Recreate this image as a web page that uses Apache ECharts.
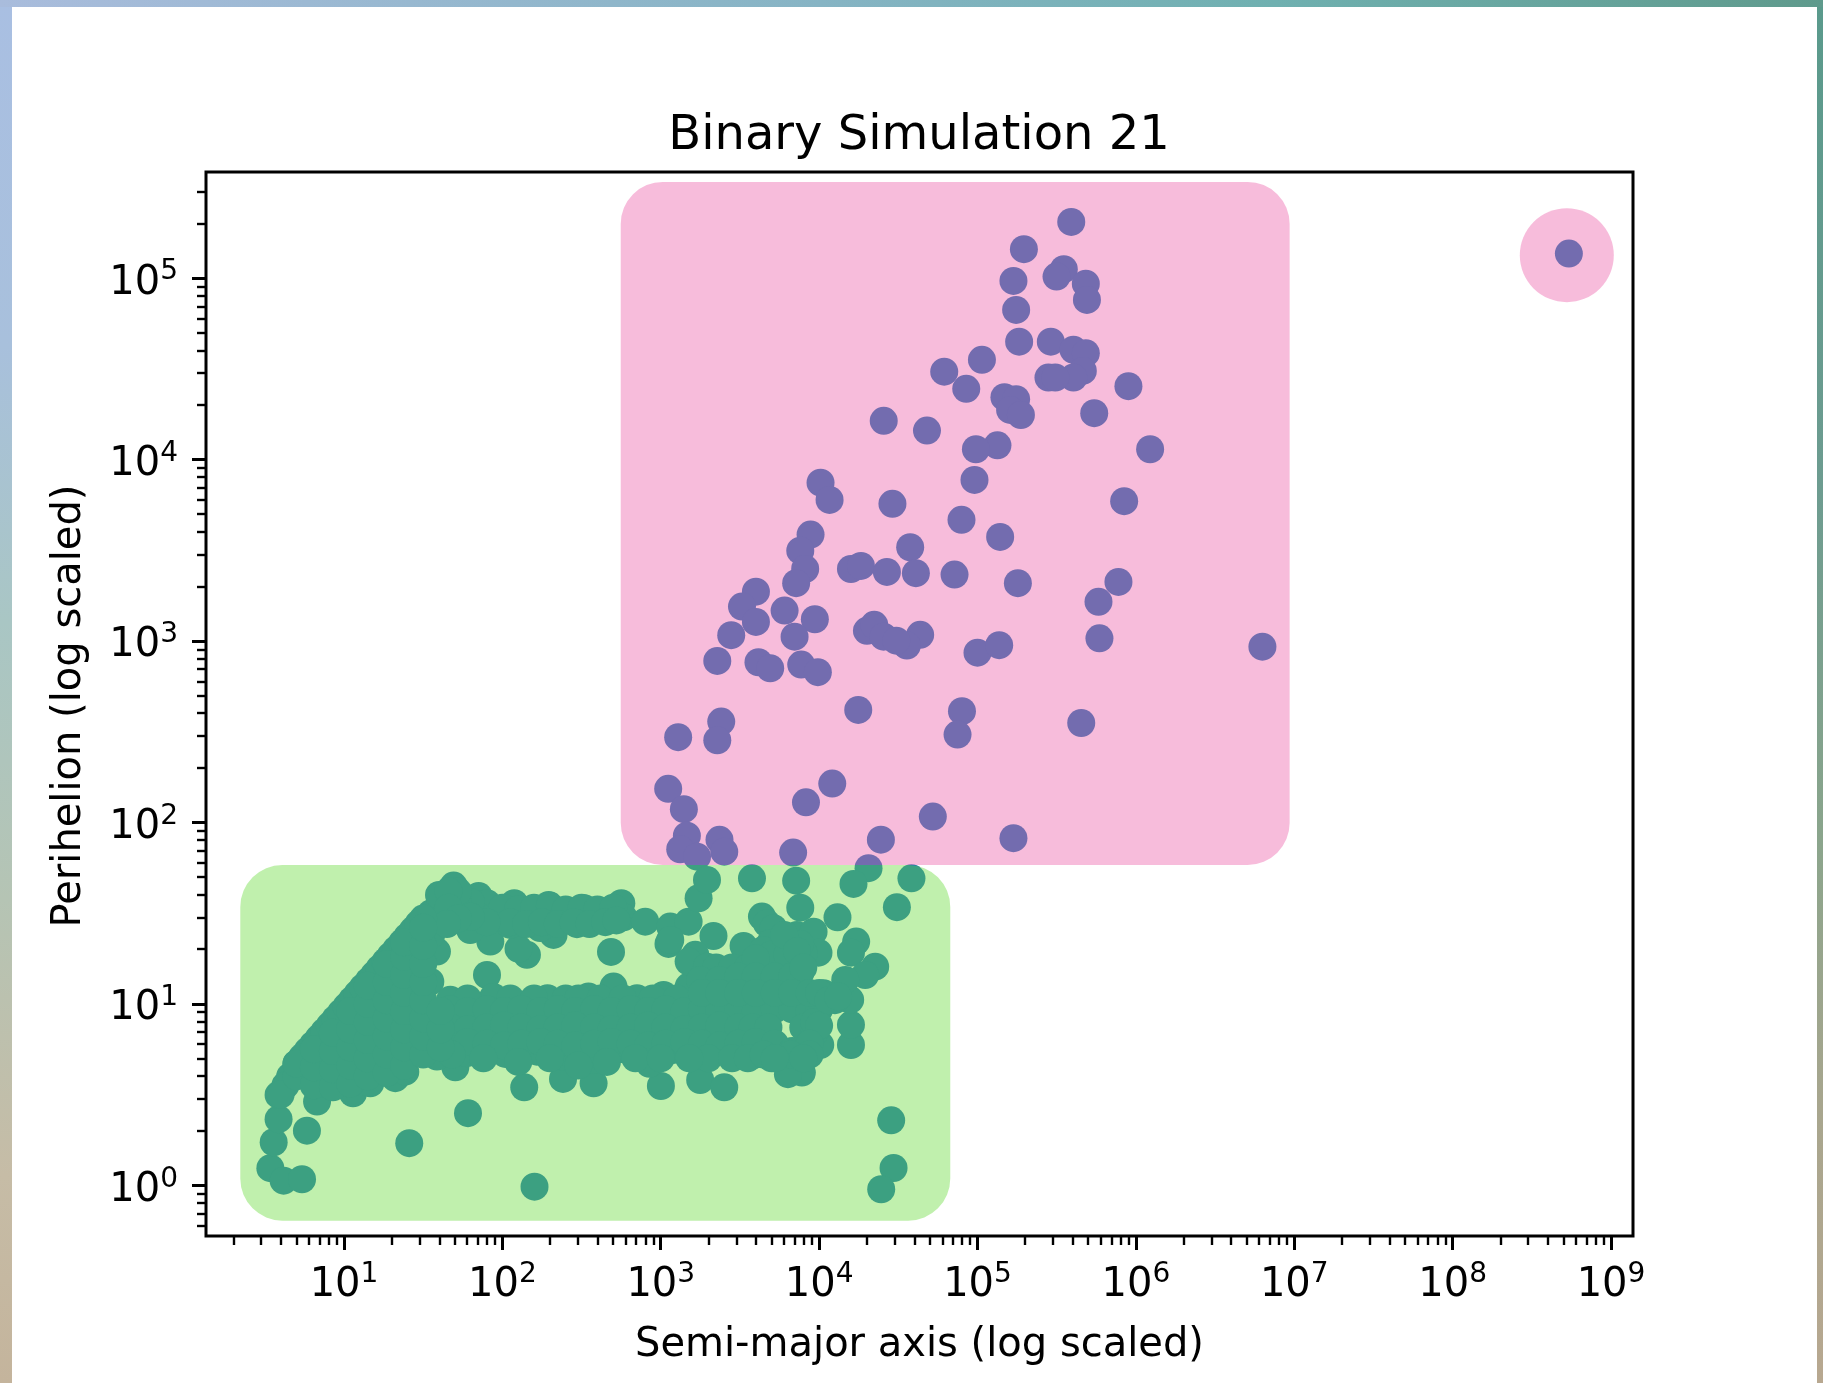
<!DOCTYPE html>
<html>
<head>
<meta charset="utf-8">
<title>Binary Simulation 21</title>
<script src="https://cdn.jsdelivr.net/npm/echarts@6/dist/echarts.min.js"></script>
<style>
  html, body { margin: 0; padding: 0; width: 1823px; height: 1383px; overflow: hidden; }
  body {
    background:
      linear-gradient(to right, #a9bcdc, #86b4c4 45%, #6fb0b0 70%, #5f9a8c) 0 0 / 100% 7px no-repeat,
      linear-gradient(to bottom, #a9bfe2 0, #a8c0dc 25%, #a9c6c4 45%, #b5c4b4 65%, #c6bca6 85%, #c4b49c) 0 0 / 12px 100% no-repeat,
      linear-gradient(to bottom, #5a9a8c 0, #6d9c90 35%, #8aa58c 60%, #a8a68e 80%, #b8a890) right 0 / 6px 100% no-repeat;
  }
  #panel { position: absolute; left: 12px; top: 7px; width: 1805px; height: 1376px; background: #fff; }
  #main { position: absolute; left: 0; top: 0; width: 1823px; height: 1383px; }
</style>
</head>
<body>
<div id="panel"></div>
<div id="main"></div>
<script>

// wide binaries, upper cluster
var wideAxisLog = [
  5.592, 5.293, 5.227, 5.244, 5.545, 5.499, 5.684, 5.691, 5.263, 5.463, 5.606, 5.684, 5.665, 5.606, 5.448, 5.491,
  5.953, 5.028, 4.790, 4.929, 5.170, 5.244, 5.206, 5.274, 5.737, 4.681, 5.126, 4.990, 4.981, 6.090, 5.926, 4.899,
  5.143, 4.575, 4.611, 4.855, 5.255, 5.890, 5.764, 5.770, 6.799, 4.638, 4.554, 5.000, 5.137, 4.902, 4.874, 5.655,
  4.718, 5.227, 4.009, 4.066, 4.463, 3.946, 3.881, 3.912, 3.855, 4.201, 4.264, 4.428, 3.601, 3.513, 3.601, 3.782,
  3.973, 3.445, 3.845, 3.357, 3.617, 3.691, 3.887, 3.992, 4.302, 4.348, 4.407, 4.487, 4.247, 3.382, 3.357, 3.110,
  3.047, 3.146, 3.917, 4.083, 3.165, 3.123, 3.229, 3.371, 3.401, 3.836, 4.390, 8.734, 4.312, 4.408
];
var widePeriLog = [
  5.310, 5.160, 4.985, 4.825, 5.050, 5.009, 4.970, 4.880, 4.650, 4.650, 4.605, 4.587, 4.489, 4.452, 4.452, 4.452,
  4.405, 4.550, 4.485, 4.390, 4.344, 4.333, 4.274, 4.246, 4.256, 4.160, 4.079, 4.057, 3.888, 4.057, 3.771, 3.668,
  3.574, 3.517, 3.374, 3.366, 3.319, 3.326, 3.216, 3.015, 2.969, 3.034, 2.975, 2.936, 2.977, 2.613, 2.484, 2.548,
  2.032, 1.913, 3.873, 3.778, 3.756, 3.587, 3.498, 3.397, 3.319, 3.397, 3.414, 3.381, 3.272, 3.190, 3.105, 3.168,
  3.120, 3.032, 3.024, 2.890, 2.883, 2.850, 2.870, 2.828, 3.056, 3.089, 3.024, 3.002, 2.620, 2.556, 2.453, 2.470,
  2.185, 2.073, 2.111, 2.214, 1.927, 1.852, 1.811, 1.904, 1.839, 1.834, 1.905, 5.136, 1.748, 4.214
];

// close binaries, lower cluster
var closeAxisLog = [
  // outliers and lower edge
  0.535, 0.619, 0.735, 0.556, 0.587, 0.587, 0.766, 1.412, 1.783, 2.203, 2.138, 2.383, 2.576, 3.001, 1.703, 0.830,
  1.057, 1.166, 1.324, 1.387, 1.587, 1.777, 2.018, 2.218, 2.386, 2.574, 2.761, 2.934, 3.081, 3.249, 3.401, 3.586,
  3.891, 3.803, 4.007, 4.201, 4.201, 4.196, 2.929, 2.755, 4.455, 4.470, 4.392,
  // upper strand
  1.692, 1.850, 1.903, 2.075, 2.292, 2.197, 2.517, 2.618, 2.751, 2.765, 2.902, 3.060, 3.176, 3.049, 3.239, 3.292,
  3.333, 2.686, 2.323, 2.471, 2.155, 2.102, 1.924, 1.797, 1.903, 1.587, 1.545, 1.734, 1.608, 1.797, 2.366, 2.050, 2.239,
  2.00, 2.10, 2.20, 2.30, 2.40, 2.50, 2.60, 2.70, 2.05, 2.15, 2.25, 2.35, 2.45, 2.55, 2.65, 2.72,
  1.85, 1.80, 1.72, 1.72, 1.90, 1.80, 1.55, 1.61, 1.55, 1.60, 1.66, 1.66, 1.72, 1.65,
  // top of the band
  2.145, 2.285, 2.544, 2.702, 2.850, 3.018, 1.943, 1.671, 3.176, 3.249, 3.449, 3.607, 3.754, 3.881, 3.523, 3.218,
  3.176, 3.292, 3.639, 3.670, 3.712, 3.691, 3.647, 3.775, 3.860, 3.965, 3.996, 3.902, 3.881, 3.855, 3.576, 4.217,
  4.583, 4.491, 4.116, 4.234, 4.201, 4.354, 4.291, 4.165, 4.028, 3.060,
  3.35, 3.45, 3.55, 3.65, 3.75, 3.85, 3.70, 3.80, 3.60, 3.88, 3.78, 3.86,
  1.78, 2.05, 2.20, 2.40, 2.48, 2.62, 2.76, 2.95, 3.10,
  // band
  1.67, 1.78, 1.90, 2.01, 2.12, 2.24, 2.35, 2.46, 2.58, 2.69, 2.81, 2.92, 3.03, 3.15, 3.26, 3.37, 3.49, 3.60, 3.72, 3.83, 3.94, 4.00, 4.10,
  1.67, 1.78, 1.90, 2.01, 2.12, 2.24, 2.35, 2.46, 2.58, 2.69, 2.81, 2.92, 3.03, 3.15, 3.26, 3.37, 3.49, 3.58, 3.68, 3.90, 3.97, 3.97, 4.00,
  1.67, 1.78, 1.90, 2.01, 2.12, 2.24, 2.35, 2.46, 2.58, 2.69, 2.81, 2.92, 3.03, 3.15, 3.26, 3.37, 3.49, 3.60, 3.72, 3.83, 3.94,
  3.25, 3.37, 3.49, 3.60, 3.72, 3.83, 3.90, 3.26, 3.37, 3.49, 3.60, 3.72, 3.83, 3.94, 3.30, 3.45, 3.82, 3.94, 3.70,
  4.00, 4.06, 4.12,
  1.68, 1.88, 2.10, 2.30, 2.48, 2.66, 2.84, 3.00, 3.18, 3.55, 3.65, 3.72, 3.90,
  // diagonal edge
  0.66, 0.63, 0.60, 0.70, 0.735, 0.77, 0.805, 0.84, 0.875, 0.91, 0.945, 0.98, 1.015, 1.05, 1.085, 1.12, 1.155, 1.19, 1.225, 1.26, 1.295,
  1.33, 1.365, 1.40, 1.435, 1.47, 1.50,
  // block under the diagonal
  0.70, 0.70, 0.81, 0.81, 0.81, 0.93, 0.93, 0.93, 0.93, 1.04, 1.04, 1.04, 1.04, 1.04,
  1.15, 1.15, 1.15, 1.15, 1.15, 1.15, 1.27, 1.27, 1.27, 1.27, 1.27, 1.27, 1.27,
  1.38, 1.38, 1.38, 1.38, 1.38, 1.38, 1.38, 1.38, 1.50, 1.50, 1.50, 1.50, 1.50, 1.50, 1.50, 1.50,
  1.61, 1.61, 1.61
];
var closePeriLog = [
  0.094, 0.025, 0.033, 0.237, 0.364, 0.498, 0.301, 0.232, 0.397, -0.008, 0.540, 0.586, 0.562, 0.547, 0.650, 0.461,
  0.507, 0.562, 0.590, 0.626, 0.709, 0.728, 0.724, 0.736, 0.709, 0.691, 0.750, 0.673, 0.746, 0.580, 0.540, 0.718,
  0.621, 0.612, 0.773, 0.773, 0.884, 1.022, 0.669, 0.751, 0.358, 0.095, -0.022,

  1.652, 1.595, 1.555, 1.555, 1.545, 1.518, 1.527, 1.463, 1.555, 1.477, 1.453, 1.426, 1.453, 1.330, 1.582, 1.683,
  1.374, 1.286, 1.380, 1.439, 1.270, 1.303, 1.343, 1.407, 1.159, 1.288, 1.122, 1.545, 1.463, 1.505, 1.463, 1.435, 1.418,
  1.53, 1.52, 1.53, 1.54, 1.52, 1.53, 1.52, 1.53, 1.45, 1.44, 1.45, 1.44, 1.45, 1.44, 1.45, 1.46,
  1.48, 1.56, 1.55, 1.62, 1.45, 1.48, 1.50, 1.55, 1.38, 1.60, 1.62, 1.53, 1.47, 1.44,

  0.994, 1.031, 1.040, 1.095, 1.031, 1.049, 1.038, 1.022, 1.095, 1.132, 1.196, 1.170, 1.169, 1.170, 1.319, 1.270,
  1.233, 1.205, 1.481, 1.444, 1.417, 1.334, 1.297, 1.315, 1.380, 1.398, 1.282, 1.279, 1.530, 1.679, 1.692, 1.661,
  1.692, 1.533, 1.477, 1.343, 1.282, 1.205, 1.159, 1.132, 1.058, 1.352,
  1.20, 1.20, 1.20, 1.20, 1.20, 1.20, 1.27, 1.27, 1.25, 1.33, 1.38, 1.29,
  1.03, 1.03, 1.03, 1.03, 1.03, 1.03, 1.03, 1.03, 1.03,

  0.97, 0.96, 0.97, 0.96, 0.97, 0.96, 0.97, 0.96, 0.97, 0.96, 0.97, 0.96, 0.97, 0.96, 0.97, 0.96, 0.97, 0.96, 0.97, 0.97, 0.96, 0.97, 1.02,
  0.87, 0.86, 0.87, 0.88, 0.87, 0.86, 0.87, 0.88, 0.87, 0.86, 0.87, 0.88, 0.87, 0.86, 0.87, 0.88, 0.87, 0.87, 0.87, 0.87, 0.84, 0.90, 0.88,
  0.78, 0.79, 0.78, 0.77, 0.78, 0.79, 0.78, 0.77, 0.78, 0.79, 0.78, 0.77, 0.78, 0.79, 0.78, 0.77, 0.78, 0.79, 0.78, 0.74, 0.78,
  1.13, 1.13, 1.15, 1.15, 1.15, 1.15, 1.20, 1.06, 1.06, 1.06, 1.06, 1.06, 1.06, 1.06, 0.70, 0.70, 0.72, 0.72, 0.70,
  1.06, 1.02, 1.04,
  0.72, 0.70, 0.68, 0.70, 0.66, 0.68, 0.70, 0.70, 0.70, 0.70, 0.72, 0.70, 0.70,

  0.60, 0.55, 0.50, 0.67, 0.705, 0.74, 0.775, 0.81, 0.845, 0.88, 0.915, 0.95, 0.985, 1.02, 1.055, 1.09, 1.125, 1.16, 1.195, 1.23, 1.265,
  1.30, 1.335, 1.37, 1.405, 1.44, 1.47,

  0.60, 0.67, 0.55, 0.65, 0.75, 0.54, 0.64, 0.74, 0.84, 0.56, 0.66, 0.76, 0.86, 0.96,
  0.60, 0.70, 0.80, 0.90, 1.00, 1.10, 0.62, 0.72, 0.82, 0.92, 1.02, 1.12, 1.22,
  0.66, 0.76, 0.86, 0.96, 1.06, 1.16, 1.26, 1.34, 0.72, 0.82, 0.92, 1.02, 1.12, 1.22, 1.32, 1.42,
  0.76, 0.86, 0.96
];

// highlight regions: [axis from, perihelion from, axis to, perihelion to]
var wideBox = [559, 58.3, 9.35e6, 3.396e5];
var closeBox = [2.215, 0.638, 67300, 58.3];
var outlierSpot = [5.26e8, 1.34e5];

var xRange = [1.345, 1.377e9];
var yRange = [0.525, 3.85e5];

var xMajorTicks = [10, 1e2, 1e3, 1e4, 1e5, 1e6, 1e7, 1e8, 1e9];
var yMajorTicks = [1, 10, 1e2, 1e3, 1e4, 1e5];
var xMinorTicks = [];
var yMinorTicks = [];
[2, 3, 4, 5, 6, 7, 8, 9].forEach(function (m) {
  [1, 10, 1e2, 1e3, 1e4, 1e5, 1e6, 1e7, 1e8].forEach(function (d) { xMinorTicks.push(m * d); });
  [0.1, 1, 10, 1e2, 1e3, 1e4, 1e5].forEach(function (d) {
    if (m * d >= yRange[0] && m * d <= yRange[1]) yMinorTicks.push(m * d);
  });
});

var points = [];
wideAxisLog.forEach(function (v, i) { points.push([Math.pow(10, v), Math.pow(10, widePeriLog[i])]); });
closeAxisLog.forEach(function (v, i) { points.push([Math.pow(10, v), Math.pow(10, closePeriLog[i])]); });

var FONT = '"DejaVu Sans"';

function powerLabel(value) {
  return '{base|10}{sup|' + Math.round(Math.log10(value)) + '}';
}
var labelRich = {
  base: { fontFamily: FONT, fontSize: 40, color: '#000' },
  sup: { fontFamily: FONT, fontSize: 28, color: '#000', padding: [0, 0, 22, 0] }
};

function majorAxis(type, range, ticks, name) {
  return {
    type: 'log', logBase: 10, min: range[0], max: range[1],
    position: type == 'x' ? 'bottom' : 'left',
    name: name, nameLocation: 'middle', nameGap: type == 'x' ? 90 : 116,
    nameTextStyle: { fontFamily: FONT, fontSize: 40, color: '#000', padding: type == 'x' ? 0 : [0, 4, 0, 0] },
    axisLine: { show: false },
    splitLine: { show: false },
    axisTick: { show: true, length: 14, customValues: ticks, lineStyle: { color: '#000', width: 3 } },
    axisLabel: {
      show: true, customValues: ticks, margin: type == 'x' ? 15 : 28, padding: [10, 0, 0, 0],
      formatter: powerLabel, rich: labelRich
    }
  };
}
function minorAxis(type, range, ticks) {
  return {
    type: 'log', logBase: 10, min: range[0], max: range[1],
    position: type == 'x' ? 'bottom' : 'left',
    axisLine: { show: false },
    splitLine: { show: false },
    axisLabel: { show: false },
    axisTick: { show: true, length: 9, customValues: ticks, lineStyle: { color: '#000', width: 2.4 } }
  };
}

var chart = echarts.init(document.getElementById('main'), null, { renderer: 'canvas' });
chart.setOption({
  animation: false,
  title: {
    text: 'Binary Simulation 21', left: 914, top: 108, textAlign: 'center',
    textStyle: { fontFamily: FONT, fontSize: 48, fontWeight: 'normal', color: '#000' }
  },
  grid: { show: true, left: 206, top: 172, width: 1427, height: 1064, borderColor: '#000', borderWidth: 3, backgroundColor: 'transparent' },
  xAxis: [
    majorAxis('x', xRange, xMajorTicks, 'Semi-major axis (log scaled)'),
    minorAxis('x', xRange, xMinorTicks)
  ],
  yAxis: [
    majorAxis('y', yRange, yMajorTicks, 'Perihelion (log scaled)'),
    minorAxis('y', yRange, yMinorTicks)
  ],
  series: [
    {
      type: 'scatter', data: points, symbolSize: 28, z: 2, silent: true,
      itemStyle: { color: '#1f77b4', opacity: 1 }
    },
    {
      // translucent highlight boxes sit on top of the points
      type: 'custom', z: 5, silent: true, clip: false,
      data: [wideBox, closeBox],
      renderItem: function (params, api) {
        var a = api.coord([api.value(0), api.value(1)]);
        var b = api.coord([api.value(2), api.value(3)]);
        return {
          type: 'rect',
          shape: { x: a[0], y: b[1], width: b[0] - a[0], height: a[1] - b[1], r: 42 },
          style: { fill: params.dataIndex == 0 ? 'rgba(236,92,167,0.41)' : 'rgba(101,218,55,0.41)' }
        };
      }
    },
    {
      type: 'custom', z: 5, silent: true, clip: false,
      data: [outlierSpot],
      renderItem: function (params, api) {
        var c = api.coord([api.value(0), api.value(1)]);
        return {
          type: 'circle',
          shape: { cx: c[0], cy: c[1], r: 47 },
          style: { fill: 'rgba(236,92,167,0.41)' }
        };
      }
    }
  ]
});
</script>
</body>
</html>
